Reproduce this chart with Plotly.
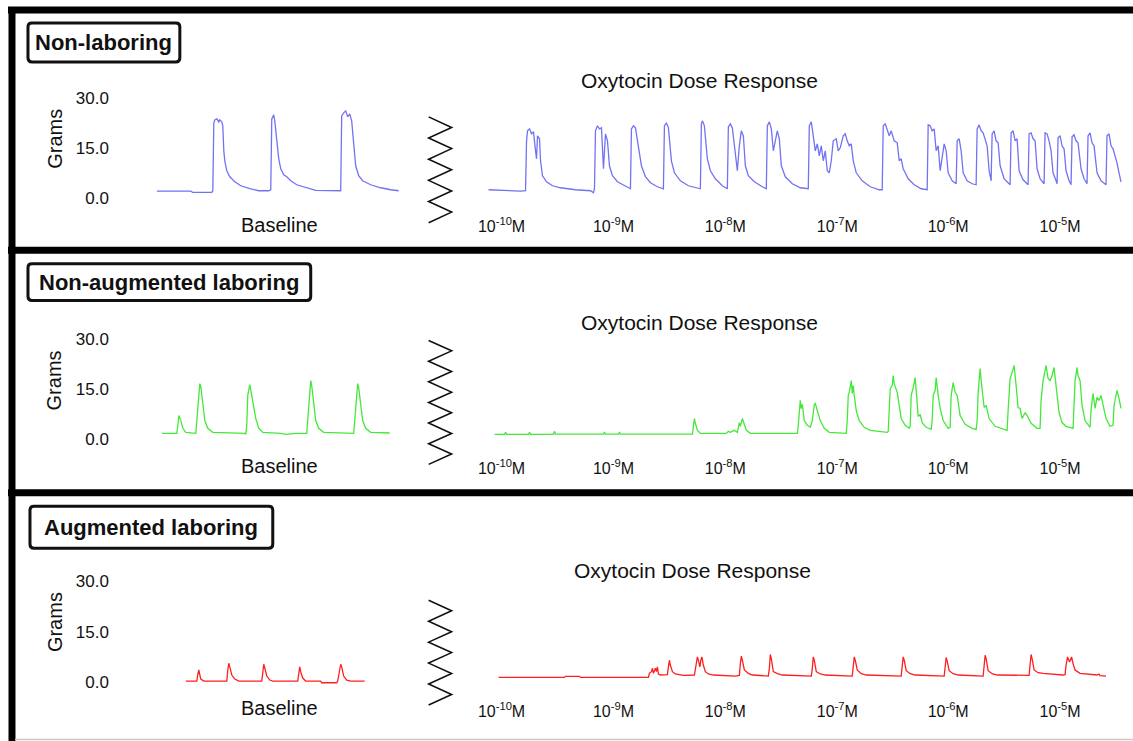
import plotly.graph_objects as go

W, H = 1133, 741

# ---------------- data (time in arbitrary recording units, force in grams) ----------------
PANEL_TITLES = ["Non-laboring", "Non-augmented laboring", "Augmented laboring"]
SECTION_TITLE = "Oxytocin Dose Response"
BASELINE_LABEL = "Baseline"
Y_LABEL = "Grams"
GRAM_TICKS = [0, 15, 30]
GRAM_TICK_TEXT = ["0.0", "15.0", "30.0"]
DOSE_TICK_T = [13, 125, 237, 349, 460, 572]
DOSE_TICK_TEXT = ["10<sup>-10</sup>M", "10<sup>-9</sup>M", "10<sup>-8</sup>M",
                  "10<sup>-7</sup>M", "10<sup>-6</sup>M", "10<sup>-5</sup>M"]
TRACE_COLORS = ["#7272f4", "#45e83a", "#ff1e1e"]

NL_BASE = [(0,2.0),(34,2.0),(36,1.6),(55,1.6),(56,2.1),(57,22.5),(58,23.4),(60,23.7),(62,22.8),(63,23.4),
           (65,22.8),(66,21.6),(67,14.1),(68,11.1),(70,8.1),(73,6.3),(78,4.8),(84,3.6),(94,2.7),(102,2.1),
           (112,2.1),(114,2.4),(115,23.7),(117,24.9),(118,23.1),(120,17.1),(122,11.7),(124,8.7),(127,6.9),
           (130,6.3),(134,5.1),(140,3.9),(149,3.0),(159,2.2),(184,2.1),(185,24.6),(187,25.5),(189,26.1),
           (191,24.3),(193,25.2),(195,23.1),(197,15.6),(199,9.6),(202,6.6),(206,5.1),(214,3.9),(224,3.0),
           (234,2.4),(242,2.1)]

NL_DOSE = [(0,2.4),(12,2.2),(22,2.1),(32,2.0),(37,2.1),
           (38,17.1),(39,20.1),(41,20.7),(43,19.2),(45,19.8),(47,14.1),(48,11.7),(49,18.6),(51,17.7),(52,11.1),
           (54,6.6),(58,4.8),(64,3.6),(72,3.0),(87,2.4),(102,2.1),(105,1.5),
           (106,2.7),(107,20.1),(109,21.6),(111,20.7),(113,21.0),(115,8.7),(117,19.2),(119,17.1),(121,9.6),
           (124,6.6),(129,4.8),(137,3.6),(142,2.7),
           (143,20.7),(145,21.6),(147,21.0),(149,17.1),(151,14.1),(153,9.6),(157,6.3),(162,4.5),(169,3.3),(175,2.7),
           (176,21.6),(178,22.5),(180,21.0),(183,11.1),(186,7.5),(192,5.1),(200,3.6),(212,2.7),
           (213,22.2),(214,23.1),(216,21.6),(219,11.7),(222,8.1),(227,5.7),(234,3.6),(239,2.7),
           (240,21.3),(242,22.2),(244,21.0),(247,14.1),(249,8.1),(251,15.6),(253,20.1),(255,18.6),(257,9.6),
           (260,6.6),(266,4.8),(274,3.3),(278,2.7),
           (279,21.6),(281,22.8),(283,20.7),(285,14.1),(287,17.1),(289,20.1),(291,17.7),(293,9.6),(297,6.3),
           (304,4.2),(312,3.0),(320,2.7),
           (321,21.6),(323,22.8),(325,18.6),(327,14.1),(329,16.2),(331,12.6),(333,15.6),(335,11.1),(337,14.1),
           (339,8.1),(341,7.5),(343,11.1),(345,17.1),(348,17.7),(350,14.1),(352,15.0),(355,18.6),(357,19.2),
           (359,17.1),(361,15.6),(363,16.2),(365,11.1),(368,7.5),(374,5.1),(382,3.3),(391,2.4),(394,2.4),
           (395,21.6),(397,22.2),(399,20.7),(401,18.6),(403,20.1),(406,17.1),(409,16.5),(411,11.1),(413,11.7),
           (415,8.7),(420,5.7),(426,3.9),(433,2.7),(439,2.4),
           (440,21.9),(442,21.6),(444,20.1),(446,20.7),(448,14.1),(450,15.6),(452,8.1),(454,12.6),(456,16.2),
           (458,14.1),(460,7.5),(464,5.1),(468,4.2),
           (469,17.1),(471,17.7),(473,14.1),(475,7.5),(479,5.1),(484,4.2),(488,3.9),
           (489,20.7),(491,21.9),(493,20.1),(495,19.5),(497,17.1),(499,15.6),(501,8.1),(503,5.1),
           (504,19.2),(506,20.1),(508,17.1),(510,16.5),(512,9.6),(516,5.7),(522,3.9),
           (523,19.5),(525,20.1),(527,17.1),(529,17.7),(531,8.1),(535,5.4),(540,3.9),
           (541,19.2),(543,19.5),(545,17.7),(547,17.1),(549,8.7),(552,5.7),(556,4.2),
           (557,19.5),(559,19.2),(561,17.1),(563,14.1),(565,7.5),(568,5.1),(569,4.2),
           (570,18.0),(572,18.6),(574,15.6),(576,14.7),(578,8.1),(581,5.1),(583,3.9),
           (584,18.3),(586,18.9),(588,17.1),(590,16.5),(593,8.7),(596,5.7),(599,4.2),
           (600,18.6),(602,19.5),(604,16.5),(606,15.6),(609,7.5),(613,5.1),(618,3.9),
           (619,18.6),(621,19.2),(623,15.6),(625,14.7),(627,12.6),(629,10.5),(631,7.5),(633,4.8)]

NA_BASE = [(5,1.8),(20,1.8),(21,4.2),(22,7.1),(24,5.6),(26,3.3),(29,2.1),(39,1.8),(40,5.6),(42,14.6),
           (43,16.6),(44,15.7),(46,10.1),(48,5.6),(51,3.3),(56,2.1),(88,1.8),(89,1.5),(90,4.2),(91,13.1),
           (93,16.3),(94,14.6),(96,12.5),(97,10.1),(99,6.2),(102,3.3),(106,2.1),(124,1.8),(129,1.5),(139,1.8),
           (150,1.8),(151,5.6),(153,16.0),(154,17.5),(155,16.0),(157,10.1),(159,5.6),(162,3.3),(167,2.1),
           (197,1.8),(198,5.6),(200,15.1),(201,16.6),(202,15.4),(204,10.1),(206,5.6),(209,3.3),(214,2.1),(233,1.9)]

NA_DOSE = [(6,1.5),(16,1.5),(17,2.1),(18,1.5),(40,1.5),(41,2.1),(42,1.5),(65,1.5),(66,2.4),(67,1.6),
           (115,1.6),(116,2.2),(117,1.6),(130,1.6),(131,2.2),(132,1.6),(204,1.6),(205,4.2),(206,6.2),(207,4.8),
           (209,2.7),(212,1.8),(238,1.8),(240,2.4),(242,2.1),(246,2.7),(249,2.1),(251,5.0),(252,3.9),(254,6.2),
           (256,4.2),(258,2.7),(262,1.8),(309,1.8),(310,4.2),(311,8.6),(312,11.6),(313,9.2),(314,10.4),(316,5.6),
           (319,4.2),(322,3.6),(324,5.6),(326,10.4),(327,10.7),(329,8.6),(332,5.6),(336,3.3),(341,2.1),(358,1.8),
           (359,5.6),(360,13.1),(361,14.0),(362,15.7),(363,17.5),(364,13.7),(365,16.0),(366,13.1),(368,8.6),
           (371,5.6),(376,3.6),(382,2.7),(399,2.1),
           (400,2.4),(401,11.6),(402,15.1),(404,16.0),(405,19.0),(406,16.6),(408,14.6),(409,14.0),(411,10.1),
           (413,6.2),(417,4.2),(421,3.3),
           (422,3.9),(423,13.1),(425,15.4),(427,18.4),(428,14.6),(430,6.8),(432,7.4),(434,5.0),(438,3.6),(443,3.0),
           (444,5.6),(445,13.1),(447,14.6),(448,18.4),(450,13.1),(452,9.2),(455,5.6),(460,3.3),
           (462,3.6),(463,13.1),(465,16.9),(467,14.0),(469,13.1),(472,7.1),(477,4.5),(484,3.3),(488,3.0),
           (489,5.6),(490,14.0),(492,21.1),(493,17.5),(495,11.6),(496,9.5),(498,10.1),(501,6.2),(507,3.9),
           (517,2.7),(519,2.7),
           (520,8.6),(522,18.1),(524,19.9),(526,22.0),(528,16.0),(530,9.5),(532,9.2),(534,6.2),(537,8.0),
           (539,7.1),(543,4.8),(549,3.3),(552,3.3),
           (553,11.6),(555,17.5),(558,22.0),(560,18.1),(562,17.5),(564,19.0),(566,21.4),(568,16.0),(571,8.0),
           (574,5.0),(578,3.9),(585,3.3),
           (586,13.1),(587,17.5),(589,21.4),(590,19.0),(592,17.5),(594,10.1),(597,5.6),(601,3.9),(602,3.6),
           (603,8.6),(605,13.7),(606,11.6),(607,9.2),(609,12.5),(611,11.6),(613,13.1),(615,10.1),(618,6.2),
           (622,3.9),(625,4.2),
           (626,10.1),(628,13.7),(629,14.6),(631,12.2),(633,9.2)]

AU_BASE = [(29,0.3),(40,0.3),(41,2.4),(42,3.6),(43,2.1),(44,0.9),(47,0.3),(70,0.3),(71,3.6),(72,5.6),
           (73,4.5),(75,2.1),(78,0.9),(82,0.3),(105,0.3),(106,3.6),(107,5.3),(108,4.2),(110,1.8),(113,0.6),
           (116,0.3),(141,0.3),(142,3.0),(143,4.5),(144,3.0),(146,1.2),(149,0.3),(164,0.3),(165,-0.2),
           (180,-0.2),(181,0.3),(183,3.0),(184,5.3),(185,4.5),(187,1.8),(190,0.6),(194,0.3),(208,0.3)]

AU_DOSE = [(10,1.4),(76,1.4),(77,1.7),(91,1.7),(92,1.4),(160,1.4),(161,2.6),(163,3.1),(164,4.1),(165,2.6),
           (167,4.1),(168,3.1),(169,4.5),(170,2.4),(172,2.1),(179,2.2),(180,4.5),(181,6.5),(182,5.0),(184,3.1),
           (187,2.4),(192,2.2),(195,2.0),(206,2.1),
           (207,3.6),(208,6.0),(209,7.5),(210,6.5),(211.5,4.5),(212.5,6.5),(213.5,7.5),(215,5.0),(217,3.1),
           (220,2.4),(225,2.1),(247,1.8),
           (251,2.0),(252,5.5),(253,7.7),(254,6.5),(256,3.6),(260,2.6),(264,2.1),(280,1.8),
           (281,4.0),(282,8.2),(283,7.0),(285,3.1),(289,2.5),(294,2.1),(323,1.8),
           (324,4.0),(325,7.5),(326,6.5),(328,3.1),(332,2.4),(337,2.1),(364,1.8),
           (365,5.0),(366,7.5),(367,6.5),(369,3.6),(373,2.5),(378,2.1),(413,1.8),
           (414,5.0),(415,7.5),(416,6.5),(418,3.4),(422,2.5),(427,2.1),(456,1.8),
           (457,5.0),(458,7.3),(459,6.3),(461,3.4),(465,2.5),(470,2.1),(495,1.8),
           (496,5.0),(497,8.0),(498,7.0),(500,3.4),(504,2.5),(509,2.1),(541,2.0),
           (542,5.0),(543,8.2),(544,7.0),(546,3.6),(550,2.8),(555,2.6),(575,2.1),(577,2.2),
           (578,5.0),(579.5,7.5),(581.5,6.0),(583.5,7.5),(585,5.5),(587,3.6),(592,2.6),(602,2.3),(609,2.1),
           (611,2.4),(612,1.9),(618,1.8)]

BASE_TRACES = [NL_BASE, NA_BASE, AU_BASE]
DOSE_TRACES = [NL_DOSE, NA_DOSE, AU_DOSE]

# ---------------- layout geometry (pixels of the target picture) ----------------
FONT = "Liberation Sans, Arial, Helvetica, sans-serif"
ROW_ZERO_PX = [197, 439, 682]      # pixel row of 0 g
ROW_THIRTY_PX = [97, 338, 581]     # pixel row of 30 g
Y_LOW = -4.0
BASE_DOM_PX = (109, 405)
BASE_T_AT_LEFT = -47
DOSE_DOM_PX = (478, 1128)
DOSE_T_AT_LEFT = -10

BOXES = [(27, 22, 179, 61), (27, 263, 310, 300), (29, 506, 272, 548)]
OXY_POS = [(699, 80), (699, 322), (692, 570)]
GRAMS_POS = [(54, 138), (54, 380), (54, 622)]
BASELINE_POS = [(279, 224), (279, 466), (279, 708)]
ZIGZAGS = [(428, 451, 116, 222, 5), (428, 451, 340, 464, 6), (428, 451, 600, 705, 5)]

# the photographed page shows the figure 8 px lower and slightly squeezed vertically;
# compensate so that features land on the target rows
Y_OFF, Y_SPAN = 8.0, 733.0


def fx(x):
    return x / W


def fy(y):
    return 1 - (y - Y_OFF) / Y_SPAN


fig = go.Figure()
layout = dict(width=W, height=H, margin=dict(l=0, r=0, t=0, b=0), autosize=False,
              paper_bgcolor="white", plot_bgcolor="white", showlegend=False,
              font=dict(family=FONT, color="#111111"))
annotations = []
shapes = []

for r in range(3):
    yi = r + 1
    xb = 2 * r + 1
    xd = 2 * r + 2
    ppg = (ROW_ZERO_PX[r] - ROW_THIRTY_PX[r]) / 30.0
    bottom_px = ROW_ZERO_PX[r] - Y_LOW * ppg
    ysuf = "" if yi == 1 else str(yi)
    xbsuf = "" if xb == 1 else str(xb)
    xdsuf = str(xd)

    layout["yaxis" + ysuf] = dict(domain=[fy(bottom_px), fy(ROW_THIRTY_PX[r])], range=[Y_LOW, 30],
                                  anchor="x" + xbsuf, showgrid=False, zeroline=False, showline=False,
                                  ticks="", tickvals=GRAM_TICKS, ticktext=GRAM_TICK_TEXT,
                                  tickfont=dict(size=17, family=FONT, color="#111111"))
    bw = BASE_DOM_PX[1] - BASE_DOM_PX[0]
    layout["xaxis" + xbsuf] = dict(domain=[fx(BASE_DOM_PX[0]), fx(BASE_DOM_PX[1])],
                                   range=[BASE_T_AT_LEFT, BASE_T_AT_LEFT + bw],
                                   anchor="y" + ysuf, showgrid=False, zeroline=False, showline=False,
                                   showticklabels=False, ticks="")
    dw = DOSE_DOM_PX[1] - DOSE_DOM_PX[0]
    layout["xaxis" + xdsuf] = dict(domain=[fx(DOSE_DOM_PX[0]), fx(DOSE_DOM_PX[1])],
                                   range=[DOSE_T_AT_LEFT, DOSE_T_AT_LEFT + dw],
                                   anchor="y" + ysuf, showgrid=False, zeroline=False, showline=False,
                                   ticks="", tickvals=DOSE_TICK_T, ticktext=DOSE_TICK_TEXT,
                                   ticklabelstandoff=4,
                                   tickfont=dict(size=16, family=FONT, color="#111111"))

    bt, bg = zip(*BASE_TRACES[r])
    dt, dg = zip(*DOSE_TRACES[r])
    fig.add_trace(go.Scatter(x=list(bt), y=list(bg), mode="lines", xaxis="x" + xbsuf, yaxis="y" + ysuf,
                             line=dict(color=TRACE_COLORS[r], width=1.3), hoverinfo="skip"))
    fig.add_trace(go.Scatter(x=list(dt), y=list(dg), mode="lines", xaxis="x" + xdsuf, yaxis="y" + ysuf,
                             line=dict(color=TRACE_COLORS[r], width=1.3), hoverinfo="skip"))

    # text
    x0, y0, x1, y1 = BOXES[r]
    annotations.append(dict(text="<b>%s</b>" % PANEL_TITLES[r], x=fx((x0 + x1) / 2), y=fy((y0 + y1) / 2),
                            xref="paper", yref="paper", showarrow=False, xanchor="center", yanchor="middle",
                            font=dict(size=22, family=FONT, color="#111111")))
    annotations.append(dict(text=SECTION_TITLE, x=fx(OXY_POS[r][0]), y=fy(OXY_POS[r][1]),
                            xref="paper", yref="paper", showarrow=False, xanchor="center", yanchor="middle",
                            font=dict(size=21, family=FONT, color="#111111")))
    annotations.append(dict(text=Y_LABEL, x=fx(GRAMS_POS[r][0]), y=fy(GRAMS_POS[r][1]), textangle=-90,
                            xref="paper", yref="paper", showarrow=False, xanchor="center", yanchor="middle",
                            font=dict(size=20, family=FONT, color="#111111")))
    annotations.append(dict(text=BASELINE_LABEL, x=fx(BASELINE_POS[r][0]), y=fy(BASELINE_POS[r][1]),
                            xref="paper", yref="paper", showarrow=False, xanchor="center", yanchor="middle",
                            font=dict(size=20, family=FONT, color="#111111")))

    # rounded label box
    rad = 4
    rx, ry = rad / W, rad / Y_SPAN
    X0, X1, Y0, Y1 = fx(x0), fx(x1), fy(y0), fy(y1)
    path = ("M %f,%f L %f,%f Q %f,%f %f,%f L %f,%f Q %f,%f %f,%f L %f,%f Q %f,%f %f,%f L %f,%f Q %f,%f %f,%f Z" %
            (X0 + rx, Y0, X1 - rx, Y0, X1, Y0, X1, Y0 - ry, X1, Y1 + ry, X1, Y1, X1 - rx, Y1,
             X0 + rx, Y1, X0, Y1, X0, Y1 + ry, X0, Y0 - ry, X0, Y0, X0 + rx, Y0))
    shapes.append(dict(type="path", path=path, xref="paper", yref="paper",
                       line=dict(color="#111111", width=3), fillcolor="rgba(0,0,0,0)"))

    # zig-zag axis break
    zl, zr, zt, zb, n = ZIGZAGS[r]
    pts = []
    for i in range(2 * n + 1):
        xx = zl if i % 2 == 0 else zr
        yy = zt + (zb - zt) * i / (2 * n)
        pts.append("%s %f,%f" % ("M" if i == 0 else "L", fx(xx), fy(yy)))
    shapes.append(dict(type="path", path=" ".join(pts), xref="paper", yref="paper",
                       line=dict(color="#111111", width=1.6)))

# panel frames
for yc in (9, 249.5, 492.5):
    shapes.append(dict(type="line", x0=fx(7), x1=1.0, y0=fy(yc), y1=fy(yc), xref="paper", yref="paper",
                       line=dict(color="#000000", width=7)))
shapes.append(dict(type="line", x0=fx(11), x1=fx(11), y0=1.0, y1=0, xref="paper", yref="paper",
                   line=dict(color="#000000", width=7)))
shapes.append(dict(type="line", x0=fx(14), x1=1.0, y0=fy(739.5), y1=fy(739.5), xref="paper", yref="paper",
                   line=dict(color="#c8c8c8", width=1.5)))

layout["annotations"] = annotations
layout["shapes"] = shapes
fig.update_layout(**layout)

PIN_TOP_LEFT = (
    "document.documentElement.style.margin='0';"
    "document.documentElement.style.padding='0';"
    "document.body.style.margin='0';"
    "document.body.style.padding='0';"
    "document.body.style.overflow='hidden';"
    "var gd=document.getElementsByClassName('plotly-graph-div')[0];"
    "gd.style.position='fixed';gd.style.top='0px';gd.style.left='0px';"
)
fig.write_html("out.html", config={"displayModeBar": False}, post_script=PIN_TOP_LEFT)
